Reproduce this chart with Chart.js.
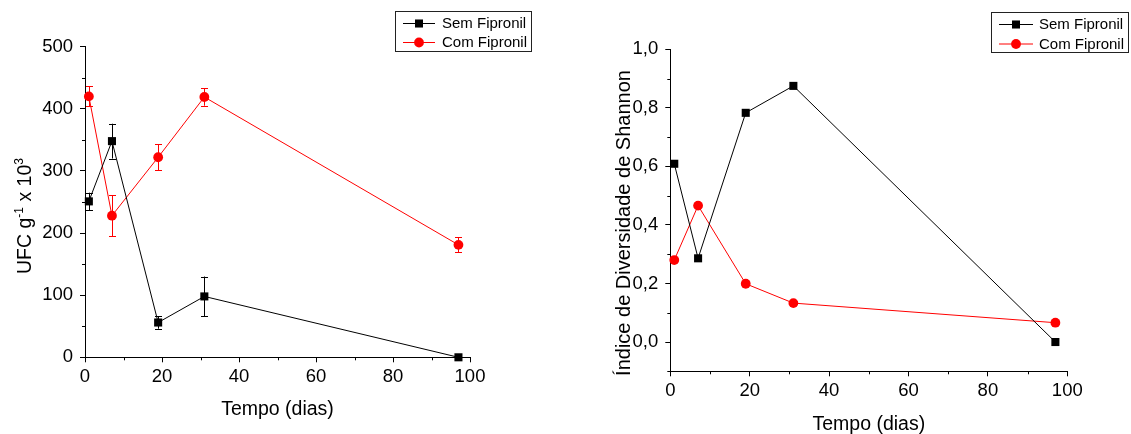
<!DOCTYPE html>
<html lang="pt">
<head>
<meta charset="UTF-8">
<title>UFC e Diversidade de Shannon</title>
<script src="https://cdn.jsdelivr.net/npm/chart.js@4"></script>
<style>
  body { margin: 0; background: #fff; width: 1131px; height: 434px; overflow: hidden; position: relative; }
  .panel { position: absolute; top: 0; height: 434px; }
  #left { left: 0; width: 565px; }
  #right { left: 565px; width: 566px; }
</style>
</head>
<body>
<div class="panel" id="left"><canvas id="chartUfc" width="565" height="434"></canvas></div>
<div class="panel" id="right"><canvas id="chartShannon" width="566" height="434"></canvas></div>
<script>
// dados
const dias = [1, 7, 19, 31, 97];
const seriesNames = ['Sem Fipronil', 'Com Fipronil'];

const ufcSem = [251, 348, 56, 98, 0];
const ufcSemErr = [14, 28, 10, 32, 0];
const ufcCom = [420, 228, 322, 419, 181];
const ufcComErr = [16, 33, 21, 14, 12];

const shannonSem = [0.609, 0.286, 0.783, 0.875, 0.0];
const shannonCom = [0.280, 0.466, 0.199, 0.133, 0.066];

const xTicks = [0, 20, 40, 60, 80, 100];
const xMinor = [10, 30, 50, 70, 90];
const ufcTicks = [0, 100, 200, 300, 400, 500];
const ufcMinor = [50, 150, 250, 350, 450];
const shannonTicks = [0, 0.2, 0.4, 0.6, 0.8, 1.0];
const shannonTickLabels = ['0,0', '0,2', '0,4', '0,6', '0,8', '1,0'];
const shannonMinor = [-0.1, 0.1, 0.3, 0.5, 0.7, 0.9];

const FONT = "'Liberation Sans', Arial, sans-serif";

function pts(ys) {
    return dias.map((d, i) => ({ x: d, y: ys[i] }));
}

// barras de erro verticais
const errorBars = {
    id: 'errorBars',
    beforeDatasetsDraw(chart) {
        const ctx = chart.ctx;
        const yScale = chart.scales.y;
        chart.data.datasets.forEach((ds, i) => {
            if (!ds.errors) return;
            const meta = chart.getDatasetMeta(i);
            ctx.save();
            ctx.strokeStyle = ds.borderColor;
            ctx.lineWidth = 1;
            meta.data.forEach((pt, j) => {
                const e = ds.errors[j];
                if (!e) return;
                const v = ds.data[j].y;
                const top = yScale.getPixelForValue(v + e);
                const bot = yScale.getPixelForValue(v - e);
                const x = Math.round(pt.x) + 0.5;
                ctx.beginPath();
                ctx.moveTo(x, top); ctx.lineTo(x, bot);
                ctx.moveTo(x - 3.5, Math.round(top) + 0.5); ctx.lineTo(x + 3.5, Math.round(top) + 0.5);
                ctx.moveTo(x - 3.5, Math.round(bot) + 0.5); ctx.lineTo(x + 3.5, Math.round(bot) + 0.5);
                ctx.stroke();
            });
            ctx.restore();
        });
    }
};

// ticks menores
const minorTicks = {
    id: 'minorTicks',
    afterDraw(chart, args, opts) {
        const ctx = chart.ctx;
        const xs = chart.scales.x, ys = chart.scales.y;
        ctx.save();
        ctx.strokeStyle = '#000';
        ctx.lineWidth = 1;
        ctx.beginPath();
        (opts.x || []).forEach(v => {
            const p = Math.round(xs.getPixelForValue(v)) + 0.5;
            ctx.moveTo(p, xs.top); ctx.lineTo(p, xs.top + 3);
        });
        (opts.y || []).forEach(v => {
            const p = Math.round(ys.getPixelForValue(v)) + 0.5;
            ctx.moveTo(ys.right, p); ctx.lineTo(ys.right - 3, p);
        });
        ctx.stroke();
        ctx.restore();
    }
};

// titulos dos eixos (com sobrescritos)
const axisTitles = {
    id: 'axisTitles',
    afterDraw(chart, args, opts) {
        const ctx = chart.ctx;
        const area = chart.chartArea;
        ctx.save();
        ctx.fillStyle = '#000';
        ctx.font = '19.5px ' + FONT;
        ctx.textAlign = 'center';
        ctx.textBaseline = 'alphabetic';
        ctx.fillText(opts.xText, (area.left + area.right) / 2, opts.xBaseline);

        ctx.translate(opts.yBaseline, opts.yCenter);
        ctx.rotate(-Math.PI / 2);
        ctx.textAlign = 'left';
        const parts = opts.yParts;
        const mainFont = opts.ySize + 'px ' + FONT;
        let total = 0;
        parts.forEach(p => {
            ctx.font = p.sup ? '12px ' + FONT : mainFont;
            total += ctx.measureText(p.t).width;
        });
        let x = -total / 2;
        parts.forEach(p => {
            ctx.font = p.sup ? '12px ' + FONT : mainFont;
            ctx.fillText(p.t, x, p.sup ? -8 : 0);
            x += ctx.measureText(p.t).width;
        });
        ctx.restore();
    }
};

// legenda em caixa
const boxLegend = {
    id: 'boxLegend',
    afterDraw(chart, args, opts) {
        const ctx = chart.ctx;
        ctx.save();
        ctx.strokeStyle = '#222';
        ctx.lineWidth = 1;
        ctx.strokeRect(opts.left + 0.5, opts.top + 0.5, opts.width, opts.height);
        chart.data.datasets.forEach((ds, i) => {
            const y = opts.rows[i];
            ctx.strokeStyle = ds.borderColor;
            ctx.lineWidth = 1;
            ctx.beginPath();
            ctx.moveTo(opts.lineX0, y); ctx.lineTo(opts.lineX1, y);
            ctx.stroke();
            ctx.fillStyle = ds.backgroundColor;
            Chart.helpers.drawPoint(ctx, {
                pointStyle: ds.pointStyle, radius: ds.pointRadius, borderWidth: 0, rotation: 0
            }, (opts.lineX0 + opts.lineX1) / 2, y);
            ctx.fillStyle = '#000';
            ctx.font = '15px ' + FONT;
            ctx.textAlign = 'left';
            ctx.textBaseline = 'middle';
            ctx.fillText(ds.label, opts.textX, y + 0.5);
        });
        ctx.restore();
    }
};

function makeChart(canvasId, cfg) {
    const datasets = [
        {
            label: seriesNames[0], data: pts(cfg.sem), errors: cfg.semErr,
            borderColor: '#000', backgroundColor: '#000', borderWidth: 1,
            pointStyle: 'rect', pointRadius: 5.7, pointBorderWidth: 0, clip: false
        },
        {
            label: seriesNames[1], data: pts(cfg.com), errors: cfg.comErr,
            borderColor: '#ff0000', backgroundColor: '#ff0000', borderWidth: 1,
            pointStyle: 'circle', pointRadius: 4.9, pointBorderWidth: 0, clip: false
        }
    ];
    return new Chart(document.getElementById(canvasId), {
        type: 'line',
        data: { datasets },
        options: {
            responsive: false,
            animation: false,
            events: [],
            layout: { padding: cfg.padding },
            scales: {
                x: {
                    type: 'linear', min: 0, max: 100,
                    afterBuildTicks: s => { s.ticks = xTicks.map(v => ({ value: v })); },
                    afterFit: s => { s.height = cfg.xHeight; },
                    border: { display: true, color: '#000', width: 1 },
                    grid: { drawOnChartArea: false, drawTicks: true, tickLength: 5, tickColor: '#000', color: '#000' },
                    ticks: { color: '#000', padding: 4, maxRotation: 0, font: { family: FONT, size: 18.5 } }
                },
                y: {
                    type: 'linear', min: cfg.yMin, max: cfg.yMax,
                    afterBuildTicks: s => { s.ticks = cfg.yTicks.map(v => ({ value: v })); },
                    afterFit: s => { s.width = cfg.yWidth; },
                    border: { display: true, color: '#000', width: 1 },
                    grid: { drawOnChartArea: false, drawTicks: true, tickLength: 5, tickColor: '#000', color: '#000' },
                    ticks: {
                        color: '#000', padding: 7, font: { family: FONT, size: 18.5 },
                        callback: (v, i) => cfg.yLabels ? cfg.yLabels[i] : String(v)
                    }
                }
            },
            plugins: {
                legend: { display: false },
                tooltip: { enabled: false },
                minorTicks: { x: xMinor, y: cfg.yMinor },
                axisTitles: cfg.titles,
                boxLegend: cfg.legend
            }
        },
        plugins: [errorBars, minorTicks, axisTitles, boxLegend]
    });
}

makeChart('chartUfc', {
    sem: ufcSem, semErr: ufcSemErr, com: ufcCom, comErr: ufcComErr,
    yMin: 0, yMax: 500, yTicks: ufcTicks, yMinor: ufcMinor,
    padding: { left: 0, right: 95, top: 46.7, bottom: 0 },
    yWidth: 85, xHeight: 76.7,
    titles: {
        xText: 'Tempo (dias)', xBaseline: 415,
        yBaseline: 30.5, yCenter: 216, ySize: 19.5,
        yParts: [{ t: 'UFC g' }, { t: '-1', sup: true }, { t: ' x 10' }, { t: '3', sup: true }]
    },
    legend: { left: 395, top: 11, width: 136, height: 40, rows: [23.5, 42.5], lineX0: 403, lineX1: 435, textX: 442 }
});

makeChart('chartShannon', {
    sem: shannonSem, com: shannonCom,
    yMin: -0.1, yMax: 1.0, yTicks: shannonTicks, yLabels: shannonTickLabels, yMinor: shannonMinor,
    padding: { left: 0, right: 63.7, top: 49.3, bottom: 0 },
    yWidth: 105.3, xHeight: 62.7,
    titles: {
        xText: 'Tempo (dias)', xBaseline: 430,
        yBaseline: 65, yCenter: 223, ySize: 20,
        yParts: [{ t: 'Índice de Diversidade de Shannon' }]
    },
    legend: { left: 426, top: 12, width: 137, height: 40, rows: [24.5, 44], lineX0: 434, lineX1: 468, textX: 474 }
});
</script>
</body>
</html>
